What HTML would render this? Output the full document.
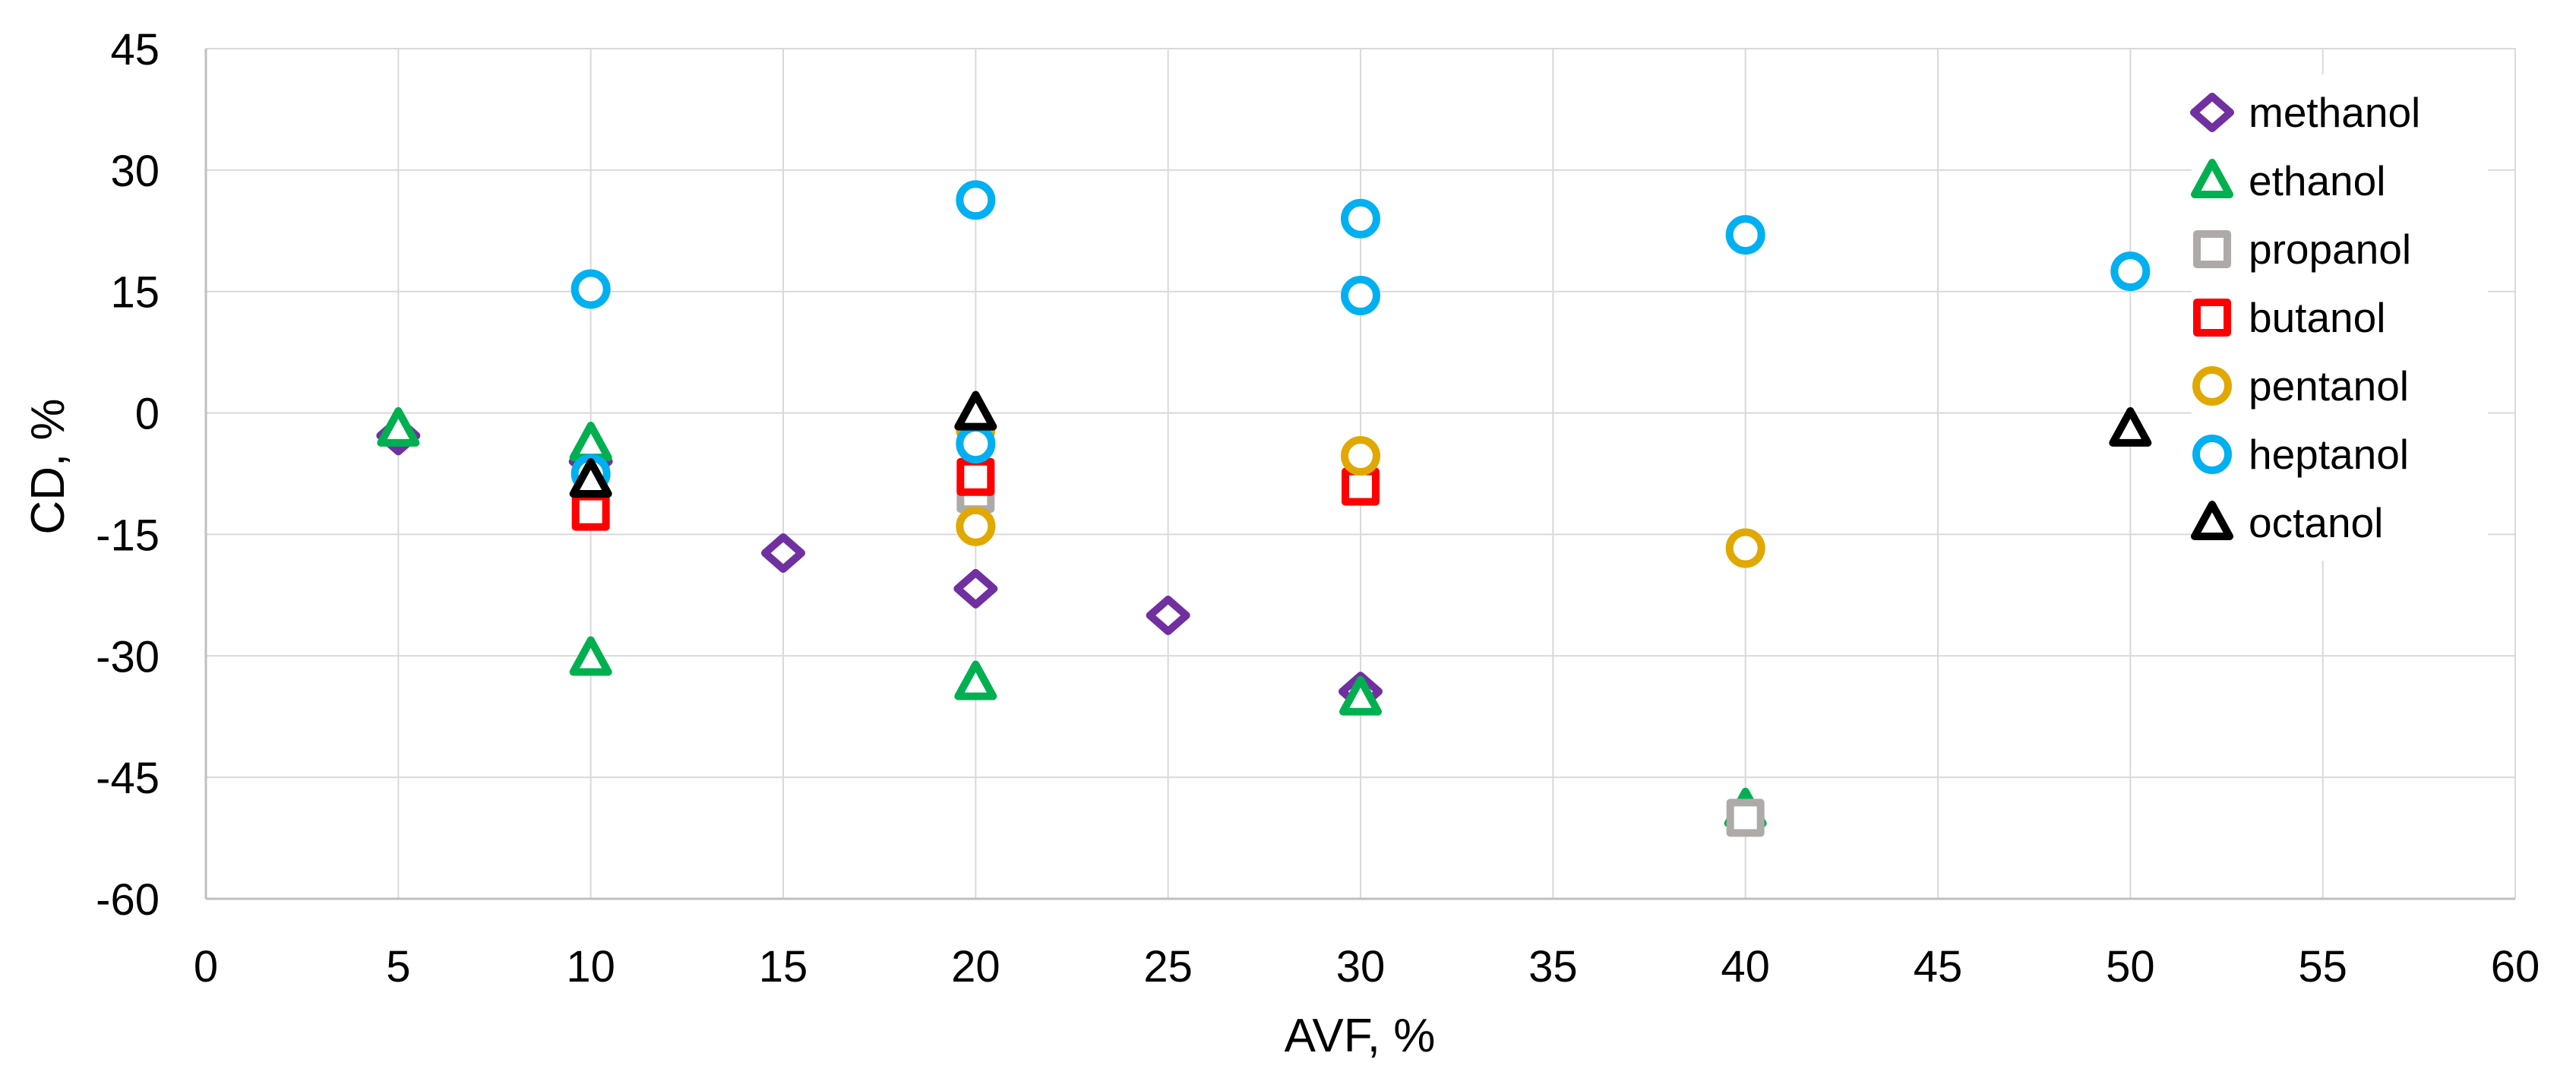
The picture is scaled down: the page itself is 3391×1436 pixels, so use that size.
<!DOCTYPE html>
<html><head><meta charset="utf-8"><style>
html,body{margin:0;padding:0;background:#fff;}
svg{display:block;font-family:"Liberation Sans",sans-serif;}
</style></head><body>
<svg id="chart" width="3391" height="1436" viewBox="0 0 3391 1436" xmlns="http://www.w3.org/2000/svg">
<g id="grid"></g>
<g id="axes"></g>
<g id="marks"></g>
<g id="legend"></g>
<text x="0" y="0" transform="translate(84,614) rotate(-90)" text-anchor="middle" font-size="62" fill="#000">CD, %</text>
<text x="1790" y="1384" text-anchor="middle" font-size="62" fill="#000">AVF, %</text>
</svg>
<script>
const xTicks=[0,5,10,15,20,25,30,35,40,45,50,55,60];
const yTicks=[45,30,15,0,-15,-30,-45,-60];
const seriesNames=["methanol","ethanol","propanol","butanol","pentanol","heptanol","octanol"];
const methanolX=[5,10,15,20,25,30];
const methanolY=[-2.8,-6,-17.3,-21.7,-25,-34.4];
const ethanolX=[5,10,10,20,30,40];
const ethanolY=[-2,-3.8,-30.3,-33.3,-35.2,-49];
const propanolX=[20,40];
const propanolY=[-10,-50];
const butanolX=[10,20,30];
const butanolY=[-12.2,-7.9,-9.1];
const pentanolX=[20,20,30,40];
const pentanolY=[-2,-14,-5.3,-16.7];
const heptanolX=[10,10,20,20,30,30,40,50];
const heptanolY=[15.3,-7.5,26.3,-3.8,24,14.5,22,17.5];
const octanolX=[10,20,50];
const octanolY=[-8.3,0,-2];

const NS="http://www.w3.org/2000/svg";
const X0=271,X1=3311,Y0=64,Y1=1183;
const xs=v=>X0+(v-0)/60*(X1-X0);
const ys=v=>Y0+(45-v)/105*(Y1-Y0);
function mk(tag,attrs,parent){const e=document.createElementNS(NS,tag);for(const k in attrs)e.setAttribute(k,attrs[k]);parent.appendChild(e);return e;}
const grid=document.getElementById('grid'),axes=document.getElementById('axes'),marks=document.getElementById('marks'),legend=document.getElementById('legend');
xTicks.forEach(t=>{
  if(t>0){const l=mk('line',{x1:xs(t),x2:xs(t),y1:Y0,y2:Y1,stroke:'#d9d9d9','stroke-width':2},grid);
  
  }
  const tx=mk('text',{x:xs(t),y:1292,'text-anchor':'middle','font-size':58,fill:'#000'},axes);
  tx.textContent=t;
  
  
});
yTicks.forEach(t=>{
  if(t>-60){const l=mk('line',{x1:X0,x2:X1,y1:ys(t),y2:ys(t),stroke:'#d9d9d9','stroke-width':2},grid);
  
  }
  const tx=mk('text',{x:210,y:ys(t)+21,'text-anchor':'end','font-size':58,fill:'#000'},axes);
  tx.textContent=t;
  
  
});
const ya=mk('line',{x1:X0,x2:X0,y1:Y0,y2:Y1,stroke:'#bfbfbf','stroke-width':3},axes);


const xa=mk('line',{x1:X0,x2:X1,y1:Y1,y2:Y1,stroke:'#bfbfbf','stroke-width':3},axes);



const styles={methanol:['diamond','#7030a0'],ethanol:['triangle','#00b050'],propanol:['square','#aeaaaa'],butanol:['square','#ff0000'],pentanol:['circle','#e0a800'],heptanol:['circle','#00b0f0'],octanol:['triangle','#000000']};
function marker(shape,color,cx,cy,parent){
  const sw=10,r=21;let e;
  if(shape==='circle')e=mk('ellipse',{cx:cx,cy:cy,rx:r,ry:r,fill:'#fff',stroke:color,'stroke-width':sw},parent);
  else if(shape==='square')e=mk('rect',{x:cx-20,y:cy-20,width:40,height:40,fill:'#fff',stroke:color,'stroke-width':sw,'stroke-linejoin':'round'},parent);
  else if(shape==='diamond')e=mk('polygon',{points:`${cx},${cy-21} ${cx+24},${cy} ${cx},${cy+21} ${cx-24},${cy}`,fill:'#fff',stroke:color,'stroke-width':sw,'stroke-linejoin':'round'},parent);
  else e=mk('polygon',{points:`${cx},${cy-24} ${cx+23},${cy+18} ${cx-23},${cy+18}`,fill:'#fff',stroke:color,'stroke-width':sw,'stroke-linejoin':'round'},parent);
  return e;
}
const dataX={methanol:methanolX,ethanol:ethanolX,propanol:propanolX,butanol:butanolX,pentanol:pentanolX,heptanol:heptanolX,octanol:octanolX};
const dataY={methanol:methanolY,ethanol:ethanolY,propanol:propanolY,butanol:butanolY,pentanol:pentanolY,heptanol:heptanolY,octanol:octanolY};
seriesNames.forEach(n=>{
  const [sh,c]=styles[n];
  dataX[n].forEach((x,i)=>{
    const e=marker(sh,c,xs(x),ys(dataY[n][i]),marks);
    
    
  });
});
const bg=mk('rect',{x:2885,y:98,width:390,height:640,fill:'#fff'},legend);


const rowY=[148,238,328,418,508,598,688];
seriesNames.forEach((n,i)=>{
  const g=mk('g',{},legend);
  
  
  const [sh,c]=styles[n];
  marker(sh,c,2912,rowY[i],g);
  const t=mk('text',{x:2960,y:rowY[i]+19,'font-size':55,fill:'#000'},g);
  t.textContent=n;
});
</script>
</body></html>
